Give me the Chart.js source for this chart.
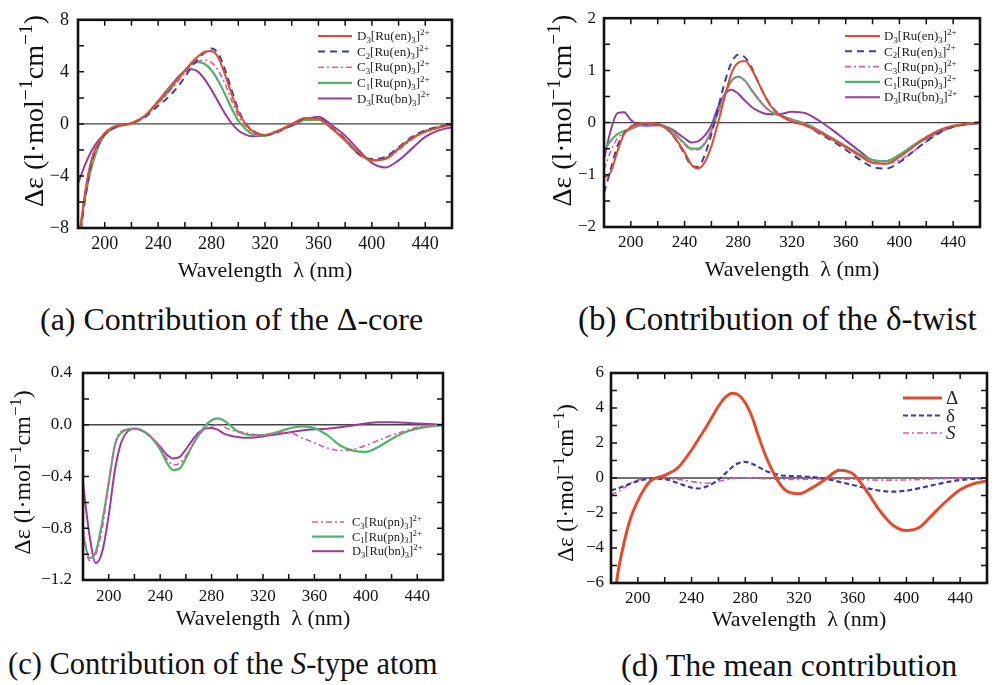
<!DOCTYPE html>
<html lang="en">
<head>
<meta charset="UTF-8">
<title>CD spectra contributions</title>
<script src="https://cdn.jsdelivr.net/npm/chart.js"></script>
<style>
  body { margin: 0; background: #fff; }
  #page { position: relative; width: 1003px; height: 685px; overflow: hidden; background: #fff;
          font-family: "Liberation Serif", "Times New Roman", serif; color: #111; }
  .panel { position: absolute; }
  .caption { position: absolute; white-space: nowrap; line-height: 1; }
</style>
</head>
<body>
<div id="page">
  <canvas class="panel" id="chartA" width="470" height="300" style="left:0;top:0"></canvas>
  <canvas class="panel" id="chartB" width="503" height="300" style="left:500px;top:0"></canvas>
  <canvas class="panel" id="chartC" width="470" height="300" style="left:0;top:340px"></canvas>
  <canvas class="panel" id="chartD" width="503" height="300" style="left:500px;top:340px"></canvas>
  <div class="caption" style="left:40px;top:303px;font-size:32px">(a) Contribution of the Δ-core</div>
  <div class="caption" style="left:578px;top:303px;font-size:33px">(b) Contribution of the δ-twist</div>
  <div class="caption" style="left:8px;top:649px;font-size:30.5px">(c) Contribution of the <i>S</i>-type atom</div>
  <div class="caption" style="left:621px;top:649px;font-size:32px">(d) The mean contribution</div>
</div>

<script>
// wavelength grid (nm), shared by all panels
const wavelength = [180,185,190,195,200,205,210,220,230,240,245,250,255,260,265,270,275,280,285,290,295,300,305,310,320,330,340,350,360,370,380,390,400,410,420,430,440,450,460];

// x axis
const xMinor = [200,220,240,260,280,300,320,340,360,380,400,420,440];
const xLabels = [200,240,280,320,360,400,440];

// series names
const namesABC = ['D₃[Ru(en)₃]²⁺', 'C₂[Ru(en)₃]²⁺', 'C₃[Ru(pn)₃]²⁺', 'C₁[Ru(pn)₃]²⁺', 'D₃[Ru(bn)₃]²⁺'];
const namesD = ['Δ', 'δ', 'S'];

// (a) contribution of the Δ-core
const aD3en = [-10,-5.5,-2.8,-1.5,-0.7,-0.3,-0.1,0.05,0.6,1.7,2.2,2.8,3.5,4.1,4.7,5.2,5.55,5.6,5.1,3.8,2.3,0.9,0.05,-0.5,-0.85,-0.55,0.0,0.45,0.4,-0.35,-1.2,-2.2,-2.8,-2.7,-1.9,-1.1,-0.6,-0.3,-0.05];
const aC2en = [-10,-6,-3,-1.6,-0.8,-0.4,-0.15,0.05,0.5,1.4,1.8,2.3,2.9,3.6,4.4,5.0,5.5,5.8,5.4,4.2,2.6,1.1,0.1,-0.45,-0.85,-0.6,-0.05,0.4,0.45,-0.3,-1.15,-2.3,-2.7,-2.55,-1.8,-1.0,-0.5,-0.2,-0.05];
const aC3pn = [-9.5,-5.5,-2.8,-1.5,-0.75,-0.35,-0.1,0.05,0.6,1.6,2.1,2.7,3.3,3.9,4.5,4.8,4.9,4.7,4.1,3.1,1.8,0.6,-0.1,-0.6,-0.85,-0.55,-0.05,0.4,0.4,-0.35,-1.25,-2.2,-2.75,-2.7,-2.0,-1.2,-0.6,-0.25,-0.05];
const aC1pn = [-9,-5.8,-3.4,-1.8,-0.85,-0.4,-0.15,0.05,0.6,1.7,2.3,2.9,3.5,4.1,4.6,4.75,4.6,4.1,3.3,2.3,1.2,0.25,-0.35,-0.75,-0.9,-0.55,-0.05,0.3,0.3,-0.35,-1.3,-2.3,-2.8,-2.65,-1.9,-1.1,-0.55,-0.25,-0.05];
const aD3bn = [-4.6,-3.2,-2.1,-1.3,-0.8,-0.45,-0.2,0.05,0.6,1.75,2.4,3.0,3.6,4.05,4.2,4.0,3.4,2.6,1.7,0.8,0.05,-0.5,-0.8,-0.95,-0.9,-0.5,-0.15,0.35,0.55,-0.1,-0.9,-2.0,-3.0,-3.35,-2.8,-1.9,-1.0,-0.5,-0.25];

// (b) contribution of the δ-twist
const bD3en = [-1.05,-0.95,-0.55,-0.22,-0.08,-0.03,-0.01,-0.03,-0.2,-0.57,-0.8,-0.88,-0.76,-0.45,0.0,0.5,0.95,1.15,1.18,1.02,0.76,0.5,0.29,0.16,0.02,-0.05,-0.18,-0.32,-0.47,-0.63,-0.77,-0.79,-0.66,-0.47,-0.28,-0.14,-0.06,-0.02,-0.01];
const bC2en = [-1.35,-0.9,-0.45,-0.2,-0.08,-0.03,-0.02,-0.03,-0.2,-0.6,-0.82,-0.85,-0.62,-0.22,0.28,0.78,1.15,1.3,1.25,1.05,0.77,0.5,0.3,0.17,0.02,-0.05,-0.2,-0.35,-0.52,-0.7,-0.85,-0.88,-0.76,-0.56,-0.36,-0.19,-0.08,-0.03,-0.01];
const bC3pn = [-0.9,-0.55,-0.3,-0.2,-0.12,-0.06,-0.04,-0.03,-0.15,-0.42,-0.52,-0.52,-0.4,-0.15,0.2,0.55,0.8,0.87,0.8,0.62,0.45,0.3,0.2,0.14,0.06,-0.02,-0.15,-0.3,-0.45,-0.62,-0.75,-0.78,-0.72,-0.56,-0.37,-0.2,-0.08,-0.03,-0.01];
const bC1pn = [-0.55,-0.35,-0.22,-0.16,-0.12,-0.07,-0.04,-0.03,-0.15,-0.4,-0.5,-0.5,-0.4,-0.15,0.2,0.55,0.8,0.88,0.8,0.62,0.45,0.3,0.2,0.15,0.06,-0.02,-0.15,-0.3,-0.45,-0.6,-0.72,-0.74,-0.62,-0.44,-0.28,-0.15,-0.07,-0.03,0];
const bD3bn = [-0.7,-0.15,0.18,0.2,0.05,-0.04,-0.06,-0.05,-0.12,-0.3,-0.38,-0.36,-0.25,-0.05,0.3,0.55,0.63,0.55,0.42,0.3,0.22,0.17,0.16,0.16,0.21,0.18,0.04,-0.14,-0.34,-0.54,-0.72,-0.74,-0.62,-0.45,-0.3,-0.17,-0.08,-0.03,0];

// (c) contribution of the S-type atom
const cC3pn = [-0.8,-1.05,-1.0,-0.8,-0.45,-0.15,-0.05,-0.03,-0.07,-0.18,-0.26,-0.31,-0.3,-0.24,-0.16,-0.08,-0.03,-0.01,0.0,-0.02,-0.04,-0.05,-0.06,-0.07,-0.08,-0.06,-0.06,-0.1,-0.14,-0.18,-0.2,-0.19,-0.16,-0.12,-0.08,-0.05,-0.02,-0.005,0];
const cC1pn = [-0.85,-1.03,-0.98,-0.75,-0.45,-0.15,-0.06,-0.03,-0.07,-0.19,-0.29,-0.35,-0.34,-0.26,-0.16,-0.08,-0.01,0.035,0.05,0.03,-0.01,-0.05,-0.07,-0.08,-0.08,-0.06,-0.03,-0.013,-0.026,-0.08,-0.16,-0.2,-0.21,-0.17,-0.11,-0.06,-0.03,-0.013,-0.005];
const cD3bn = [-0.45,-0.85,-1.07,-0.98,-0.7,-0.34,-0.13,-0.03,-0.07,-0.17,-0.23,-0.26,-0.25,-0.19,-0.12,-0.06,-0.03,-0.025,-0.04,-0.07,-0.085,-0.095,-0.1,-0.1,-0.09,-0.075,-0.06,-0.045,-0.035,-0.03,-0.02,-0.005,0.01,0.02,0.02,0.015,0.01,0.005,0];

// (d) the mean contribution
const dDelta = [-8.5,-5.5,-3.6,-2.2,-1.3,-0.6,-0.13,0.15,0.6,1.6,2.2,2.8,3.45,4.1,4.6,4.85,4.75,4.3,3.5,2.35,1.3,0.45,-0.25,-0.7,-0.9,-0.55,-0.05,0.45,0.25,-0.7,-1.85,-2.7,-3.0,-2.8,-2.05,-1.3,-0.67,-0.33,-0.17];
const dTwist = [-0.7,-0.6,-0.45,-0.3,-0.18,-0.08,-0.04,-0.06,-0.3,-0.55,-0.6,-0.52,-0.35,-0.1,0.25,0.6,0.85,0.92,0.82,0.62,0.42,0.28,0.18,0.12,0.1,0.05,-0.05,-0.22,-0.4,-0.58,-0.72,-0.78,-0.72,-0.58,-0.4,-0.24,-0.12,-0.05,0];
const dS = [-0.95,-0.8,-0.55,-0.28,-0.12,-0.05,-0.03,-0.03,-0.08,-0.2,-0.26,-0.3,-0.28,-0.2,-0.12,-0.05,-0.01,0.01,0.01,-0.02,-0.04,-0.06,-0.07,-0.08,-0.08,-0.06,-0.05,-0.06,-0.07,-0.1,-0.12,-0.12,-0.11,-0.08,-0.05,-0.03,-0.02,-0.01,0];

const SERIF = '"Liberation Serif", "Times New Roman", serif';
const RED = '#e44b2c', BLUE = '#3d3daa', PINK = '#d95c9f', GREEN = '#4fb36b', PURPLE = '#983c9c';

const SUB = {'₀':'0','₁':'1','₂':'2','₃':'3','₄':'4','₅':'5'};
const SUP = {'⁰':'0','¹':'1','²':'2','³':'3','⁺':'+','⁻':'−'};

// draws text with unicode sub/superscripts as small shifted glyphs; returns width
function richText(ctx, text, x, y, size, italic, measureOnly) {
    let w = 0;
    for (const ch of text) {
        let s = size, dy = 0, c = ch;
        if (SUB[ch]) { s = size * 0.68; dy = size * 0.22; c = SUB[ch]; }
        else if (SUP[ch]) { s = size * 0.7; dy = -size * 0.4; c = SUP[ch]; }
        ctx.font = (italic ? 'italic ' : '') + s + 'px ' + SERIF;
        if (!measureOnly) ctx.fillText(c, x + w, y + dy);
        w += ctx.measureText(c).width;
    }
    return w;
}

function pts(values) {
    return wavelength.map((w, i) => ({ x: w, y: values[i] }));
}

const panelPlugin = {
    id: 'panel',
    beforeDatasetsDraw(chart, args, o) {
        const ctx = chart.ctx, a = chart.chartArea, y0 = chart.scales.y.getPixelForValue(0);
        ctx.save();
        ctx.strokeStyle = '#444';
        ctx.lineWidth = 1.3;
        ctx.beginPath();
        ctx.moveTo(a.left, y0);
        ctx.lineTo(a.right, y0);
        ctx.stroke();
        ctx.restore();
    },
    afterDatasetsDraw(chart, args, o) {
        const ctx = chart.ctx, a = chart.chartArea, xs = chart.scales.x, ys = chart.scales.y;
        ctx.save();
        // inward ticks on all four sides
        ctx.strokeStyle = '#111';
        ctx.lineWidth = 1.5;
        ctx.beginPath();
        xMinor.forEach(v => {
            const px = xs.getPixelForValue(v);
            ctx.moveTo(px, a.bottom); ctx.lineTo(px, a.bottom - 6);
            ctx.moveTo(px, a.top); ctx.lineTo(px, a.top + 6);
        });
        o.yMinor.forEach(v => {
            const py = ys.getPixelForValue(v);
            ctx.moveTo(a.left, py); ctx.lineTo(a.left + 6, py);
            ctx.moveTo(a.right, py); ctx.lineTo(a.right - 6, py);
        });
        ctx.stroke();
        // frame
        ctx.lineWidth = 2.6;
        ctx.strokeRect(a.left, a.top, a.right - a.left, a.bottom - a.top);

        // legend
        const lg = o.legend;
        ctx.fillStyle = '#222';
        ctx.textBaseline = 'alphabetic';
        chart.data.datasets.forEach((ds, i) => {
            const ry = lg.y + i * lg.dy;
            ctx.strokeStyle = ds.borderColor;
            ctx.lineWidth = ds.borderWidth;
            ctx.setLineDash(ds.borderDash || []);
            ctx.beginPath();
            ctx.moveTo(lg.x, ry);
            ctx.lineTo(lg.x + lg.len, ry);
            ctx.stroke();
            ctx.setLineDash([]);
            richText(ctx, ds.label, lg.x + lg.len + lg.gap, ry + lg.size * 0.33, lg.size, lg.italic && lg.italic[i]);
        });

        // axis titles
        ctx.fillStyle = '#111';
        const xt = o.xTitle;
        ctx.font = xt.size + 'px ' + SERIF;
        ctx.textAlign = 'center';
        ctx.fillText('Wavelength\u00a0\u00a0λ (nm)', (a.left + a.right) / 2 + (xt.dx || 0), a.bottom + xt.dy);
        ctx.textAlign = 'left';
        const yt = o.yTitle;
        const label = 'Δε (l·mol⁻¹cm⁻¹)';
        const w = richText(ctx, label, 0, 0, yt.size, false, true);
        ctx.translate(yt.x, (a.top + a.bottom) / 2 + yt.dy);
        ctx.rotate(-Math.PI / 2);
        richText(ctx, label, -w / 2, yt.size * 0.35, yt.size, false);
        ctx.restore();
    }
};

function makeChart(id, datasets, cfg) {
    new Chart(document.getElementById(id), {
        type: 'line',
        data: { datasets: datasets },
        plugins: [panelPlugin],
        options: {
            responsive: false,
            animation: false,
            events: [],
            layout: { padding: { top: cfg.top, right: cfg.right, left: 0, bottom: 0 } },
            elements: { point: { radius: 0 }, line: { cubicInterpolationMode: 'monotone' } },
            scales: {
                x: {
                    type: 'linear', min: 180, max: 460,
                    grid: { display: false, drawTicks: false },
                    border: { display: false },
                    ticks: {
                        stepSize: 20, autoSkip: false, maxRotation: 0,
                        padding: cfg.xPad, color: '#111',
                        font: { family: SERIF, size: cfg.tickSize },
                        callback: v => xLabels.includes(v) ? String(v) : ''
                    },
                    afterFit: s => { s.height = cfg.xHeight; }
                },
                y: {
                    type: 'linear', min: cfg.yMin, max: cfg.yMax,
                    grid: { display: false, drawTicks: false },
                    border: { display: false },
                    ticks: {
                        stepSize: cfg.yStep, autoSkip: false,
                        padding: cfg.yPad, color: '#111',
                        font: { family: SERIF, size: cfg.tickSize },
                        callback: cfg.yFormat
                    },
                    afterFit: s => { s.width = cfg.yWidth; }
                }
            },
            plugins: {
                legend: { display: false },
                tooltip: { enabled: false },
                panel: { yMinor: cfg.yMinor, legend: cfg.legend, xTitle: cfg.xTitle, yTitle: cfg.yTitle }
            }
        }
    });
}

function line(label, values, color, width, dash) {
    return { label: label, data: pts(values), borderColor: color, borderWidth: width,
             borderDash: dash || [], fill: false, pointRadius: 0 };
}

const intFmt = labels => v => labels.includes(v) ? String(v).replace('-', '−') : '';

// (a)
makeChart('chartA', [
    line(namesABC[0], aD3en, RED, 2),
    line(namesABC[1], aC2en, BLUE, 2, [7, 5]),
    line(namesABC[2], aC3pn, PINK, 1.6, [6, 3, 2, 3]),
    line(namesABC[3], aC1pn, GREEN, 2.2),
    line(namesABC[4], aD3bn, PURPLE, 2)
], {
    top: 17, right: 18, yWidth: 78, xHeight: 72, xPad: 5, yPad: 9, tickSize: 18,
    yMin: -8, yMax: 8, yStep: 2, yMinor: [-6, -4, -2, 0, 2, 4, 6],
    yFormat: intFmt([-8, -4, 0, 4, 8]),
    legend: { x: 318, y: 36, dy: 15.6, len: 34, gap: 5, size: 13 },
    xTitle: { size: 22, dy: 49 },
    yTitle: { x: 33, size: 28, dy: -13 }
});

// (b)
makeChart('chartB', [
    line(namesABC[0], bD3en, RED, 2),
    line(namesABC[1], bC2en, BLUE, 2, [7, 5]),
    line(namesABC[2], bC3pn, PINK, 1.6, [6, 3, 2, 3]),
    line(namesABC[3], bC1pn, GREEN, 2.2),
    line(namesABC[4], bD3bn, PURPLE, 2)
], {
    top: 17, right: 23, yWidth: 104, xHeight: 73, xPad: 5, yPad: 8, tickSize: 17,
    yMin: -2, yMax: 2, yStep: 0.5, yMinor: [-1.5, -1, -0.5, 0, 0.5, 1, 1.5],
    yFormat: intFmt([-2, -1, 0, 1, 2]),
    legend: { x: 345, y: 36, dy: 15.3, len: 35, gap: 4, size: 13 },
    xTitle: { size: 22, dy: 49 },
    yTitle: { x: 61, size: 28, dy: -12 }
});

// (c)
makeChart('chartC', [
    line(namesABC[2], cC3pn, PINK, 1.6, [6, 3, 2, 3]),
    line(namesABC[3], cC1pn, GREEN, 2.2),
    line(namesABC[4], cD3bn, '#a2389e', 2)
], {
    top: 33, right: 27, yWidth: 83, xHeight: 60, xPad: 6, yPad: 11, tickSize: 17,
    yMin: -1.2, yMax: 0.4, yStep: 0.2, yMinor: [-1.0, -0.8, -0.6, -0.4, -0.2, 0, 0.2],
    yFormat: v => { const r = Math.round(v * 10); return r % 4 === 0 ? (r / 10).toFixed(1).replace('-', '−') : ''; },
    legend: { x: 312, y: 182, dy: 14.6, len: 32, gap: 8, size: 12.5 },
    xTitle: { size: 22, dy: 45 },
    yTitle: { x: 22, size: 24, dy: -4 }
});

// (d)
makeChart('chartD', [
    line(namesD[0], dDelta, RED, 3),
    line(namesD[1], dTwist, BLUE, 2.2, [5, 3]),
    line(namesD[2], dS, PINK, 1.6, [6, 3, 2, 3])
], {
    top: 33, right: 16, yWidth: 111, xHeight: 57, xPad: 5, yPad: 7, tickSize: 17,
    yMin: -6, yMax: 6, yStep: 1, yMinor: [-5, -4, -3, -2, -1, 0, 1, 2, 3, 4, 5],
    yFormat: intFmt([-6, -4, -2, 0, 2, 4, 6]),
    legend: { x: 403, y: 58, dy: 17.5, len: 39, gap: 4, size: 19, italic: [false, false, true] },
    xTitle: { size: 22, dy: 43 },
    yTitle: { x: 65, size: 23, dy: 5 }
});
</script>
</body>
</html>
